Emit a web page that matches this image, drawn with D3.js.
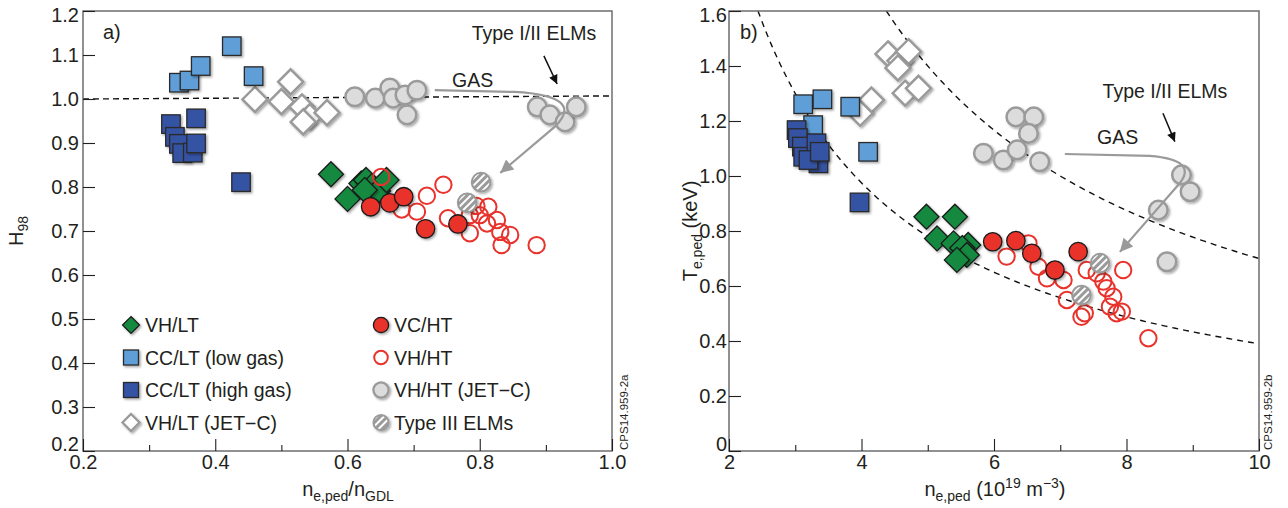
<!DOCTYPE html>
<html>
<head>
<meta charset="utf-8">
<script src="https://cdn.jsdelivr.net/npm/d3@7"></script>
<style>
body { margin: 0; background: #fff; }
text { font-family: "Liberation Sans", Arial, Helvetica, sans-serif; fill: #231f20; }
</style>
</head>
<body>
<script>
// ---- data, panel a) : H98 vs n/nGDL ----
var vhLtA   = [[0.575,0.829],[0.600,0.773],[0.621,0.808],[0.628,0.816],[0.637,0.802],[0.646,0.791],[0.659,0.816],[0.626,0.793]];
var ccLowA  = [[0.345,1.037],[0.361,1.042],[0.378,1.075],[0.425,1.120],[0.458,1.052]];
var ccHighA = [[0.333,0.943],[0.371,0.956],[0.339,0.914],[0.345,0.898],[0.350,0.877],[0.366,0.878],[0.371,0.899],[0.439,0.811]];
var jetcLtA = [[0.460,0.999],[0.514,1.039],[0.500,0.994],[0.531,0.982],[0.543,0.960],[0.569,0.969],[0.533,0.948]];
var vcHtA   = [[0.635,0.755],[0.664,0.764],[0.685,0.778],[0.718,0.705],[0.767,0.716]];
var vhHtA   = [[0.651,0.823],[0.682,0.749],[0.705,0.744],[0.720,0.780],[0.745,0.805],[0.752,0.729],[0.785,0.695],[0.795,0.757],
               [0.813,0.755],[0.811,0.717],[0.826,0.725],[0.831,0.698],[0.833,0.668],[0.846,0.691],[0.886,0.668],[0.785,0.736],[0.800,0.736]];
var jetcHtA = [[0.611,1.005],[0.642,1.002],[0.664,1.025],[0.669,1.002],[0.687,1.009],[0.705,1.020],[0.690,0.964],
               [0.887,0.982],[0.906,0.964],[0.929,0.948],[0.946,0.982]];
var type3A  = [[0.802,0.811],[0.781,0.764]];
var h98Ref  = [[0.2,1.0],[1.0,1.007]];
var gasPathA   = [[0.732,1.020],[0.853,1.016],[0.959,1.007],[0.915,0.939],[0.831,0.832]];
var elmArrowA  = [[0.897,1.098],[0.917,1.034]];

// ---- data, panel b) : Te,ped vs ne,ped ----
var vhLtB   = [[4.98,0.852],[5.41,0.852],[5.14,0.773],[5.39,0.755],[5.61,0.749],[5.52,0.738],[5.59,0.713],[5.44,0.695]];
var ccLowB  = [[3.12,1.261],[3.41,1.279],[3.83,1.252],[3.27,1.185],[4.10,1.088]];
var ccHighB = [[3.02,1.167],[3.04,1.138],[3.10,1.107],[3.12,1.070],[3.32,1.119],[3.35,1.046],[3.20,1.058],[3.37,1.088],[3.97,0.904]];
var jetcLtB = [[4.40,1.444],[4.58,1.419],[4.71,1.452],[4.55,1.393],[4.15,1.276],[3.98,1.228],[4.66,1.301],[4.86,1.319]];
var vcHtB   = [[5.98,0.761],[6.33,0.765],[6.57,0.719],[6.92,0.658],[7.27,0.725]];
var vhHtB   = [[6.19,0.707],[6.52,0.755],[6.67,0.670],[6.80,0.628],[7.05,0.622],[7.10,0.549],[7.40,0.658],[7.55,0.646],[7.65,0.616],
               [7.70,0.592],[7.80,0.561],[7.95,0.658],[7.37,0.501],[7.32,0.488],[7.75,0.525],[7.85,0.501],[7.93,0.507],[8.33,0.410]];
var jetcHtB = [[5.84,1.083],[6.14,1.058],[6.33,1.215],[6.60,1.215],[6.52,1.155],[6.35,1.095],[6.69,1.052],
               [8.83,1.004],[8.96,0.943],[8.48,0.876],[8.61,0.688]];
var type3B  = [[7.60,0.683],[7.32,0.567]];
var isobarC = [3.9, 7.0];   // Te = C / ne
var gasPathB  = [[7.07,1.080],[8.35,1.073],[9.11,1.058],[8.78,0.967],[7.90,0.724]];
var elmArrowB = [[8.55,1.228],[8.73,1.125]];

// ticks
var yTicksA = [0.2,0.3,0.4,0.5,0.6,0.7,0.8,0.9,1.0,1.1,1.2];
var xMajorA = [0.2,0.4,0.6,0.8,1.0];
var xMinorA = [0.3,0.5,0.7,0.9];
var yTicksB = [0,0.2,0.4,0.6,0.8,1.0,1.2,1.4,1.6];
var xMajorB = [2,4,6,8,10];
var xMinorB = [3,5,7,9];

var legendLeft  = ["VH/LT", "CC/LT (low gas)", "CC/LT (high gas)", "VH/LT (JET\u2212C)"];
var legendRight = ["VC/HT", "VH/HT", "VH/HT (JET\u2212C)", "Type III ELMs"];

// colours
var cGreen = "#17893f", cLight = "#5e9ed6", cDark = "#3452a3", cRed = "#e8322b",
    cGrayFill = "#dcdcdc", cGray = "#9a9a9a", cInk = "#231f20";

var svg = d3.select("body").append("svg")
    .attr("width", 1288)
    .attr("height", 508);

var defs = svg.append("defs");
var f = defs.append("filter").attr("id", "sh")
    .attr("x", "-50%").attr("y", "-50%").attr("width", "200%").attr("height", "200%");
f.append("feDropShadow").attr("dx", 1.5).attr("dy", 1.5).attr("stdDeviation", 1.3)
    .attr("flood-color", "#000").attr("flood-opacity", 0.35);

var pat = defs.append("pattern").attr("id", "hatch")
    .attr("patternUnits", "userSpaceOnUse").attr("width", 5).attr("height", 5)
    .attr("patternTransform", "rotate(45)");
pat.append("rect").attr("width", 5).attr("height", 5).attr("fill", cGray);
pat.append("rect").attr("width", 2).attr("height", 5).attr("fill", "#fff");

function arrowHead(id, color, w, h) {
    defs.append("marker").attr("id", id)
        .attr("viewBox", "0 0 10 10").attr("refX", 10).attr("refY", 5)
        .attr("markerUnits", "userSpaceOnUse")
        .attr("markerWidth", w).attr("markerHeight", h)
        .attr("orient", "auto")
        .append("path").attr("d", "M0,0 L10,5 L0,10 z").attr("fill", color);
}
arrowHead("arrGray", cGray, 15, 13);
arrowHead("arrBlack", "#111", 10, 9);

// ---- marker helpers ----
function squares(g, pts, x, y, s, fill) {
    g.selectAll(null).data(pts).enter().append("rect")
        .attr("x", function(d){ return x(d[0]) - s/2; })
        .attr("y", function(d){ return y(d[1]) - s/2; })
        .attr("width", s).attr("height", s)
        .attr("fill", fill).attr("stroke", "#2a2a2a").attr("stroke-width", 1.3)
        .attr("filter", "url(#sh)");
}
function diamonds(g, pts, x, y, r, fill, stroke, sw) {
    g.selectAll(null).data(pts).enter().append("path")
        .attr("d", function(d){
            var cx = x(d[0]), cy = y(d[1]);
            return "M" + cx + "," + (cy - r) + "L" + (cx + r) + "," + cy +
                   "L" + cx + "," + (cy + r) + "L" + (cx - r) + "," + cy + "Z";
        })
        .attr("fill", fill).attr("stroke", stroke).attr("stroke-width", sw)
        .attr("stroke-linejoin", "miter")
        .attr("filter", "url(#sh)");
}
function circles(g, pts, x, y, r, fill, stroke, sw, shadow) {
    var c = g.selectAll(null).data(pts).enter().append("circle")
        .attr("cx", function(d){ return x(d[0]); })
        .attr("cy", function(d){ return y(d[1]); })
        .attr("r", r)
        .attr("fill", fill).attr("stroke", stroke).attr("stroke-width", sw);
    if (shadow) c.attr("filter", "url(#sh)");
}

function frame(x, y) {
    svg.append("rect")
        .attr("x", x.range()[0]).attr("y", y.range()[1])
        .attr("width", x.range()[1] - x.range()[0])
        .attr("height", y.range()[0] - y.range()[1])
        .attr("fill", "none").attr("stroke", "#6d6e71").attr("stroke-width", 1.5);
}

function axes(x, y, yTicks, yFmt, yPad, xMajor, xMinor, xFmt) {
    var x0 = x.range()[0], yb = y.range()[0];
    var ya = svg.append("g").attr("transform", "translate(" + x0 + ",0)")
        .call(d3.axisLeft(y).tickValues(yTicks).tickSize(-12).tickPadding(yPad).tickFormat(yFmt));
    var xa = svg.append("g").attr("transform", "translate(0," + yb + ")")
        .call(d3.axisBottom(x).tickValues(xMajor).tickSize(-12).tickPadding(4).tickFormat(xFmt));
    var xm = svg.append("g").attr("transform", "translate(0," + yb + ")")
        .call(d3.axisBottom(x).tickValues(xMinor).tickSize(-6).tickFormat(""));
    [ya, xa, xm].forEach(function(a){
        a.select(".domain").remove();
        a.attr("font-family", null).attr("font-size", null);
        a.selectAll("line").attr("stroke", cInk).attr("stroke-width", 1.1);
        a.selectAll("text").attr("font-size", 20).attr("fill", cInk);
    });
    // lowest label sits above the corner, top label a bit lower
    ya.selectAll(".tick text").filter(function(d){ return d === yTicks[0]; }).attr("dy", "-0.05em");
    ya.selectAll(".tick text").filter(function(d){ return d === yTicks[yTicks.length - 1]; }).attr("dy", "0.5em");
}

// ================= panel a) =================
var xA = d3.scaleLinear().domain([0.2, 1.0]).range([83, 612]);
var yA = d3.scaleLinear().domain([0.2, 1.2]).range([451, 11]);

var gA = svg.append("g");
gA.append("path")
    .attr("d", d3.line().x(function(d){ return xA(d[0]); }).y(function(d){ return yA(d[1]); })(h98Ref))
    .attr("fill", "none").attr("stroke", "#111").attr("stroke-width", 1.4).attr("stroke-dasharray", "6,4");

diamonds(gA, jetcLtA, xA, yA, 12.5, "#fff", cGray, 2.5);
circles(gA, jetcHtA, xA, yA, 9.3, cGrayFill, cGray, 2.5, true);
squares(gA, ccLowA, xA, yA, 18.5, cLight);
squares(gA, ccHighA, xA, yA, 18.5, cDark);
diamonds(gA, vhLtA, xA, yA, 12.5, cGreen, "#1a1a1a", 1.3);
circles(gA, vhHtA, xA, yA, 8.2, "none", cRed, 2, false);
circles(gA, vcHtA, xA, yA, 9.2, cRed, "#1a1a1a", 1.3, true);
circles(gA, type3A, xA, yA, 9.3, "url(#hatch)", cGray, 2, true);

function curvedArrow(g, pts, x, y) {
    var p = pts.map(function(d){ return [x(d[0]), y(d[1])]; });
    g.append("path")
        .attr("d", "M" + p[0] + "L" + p[1] + "Q" + p[2] + " " + p[3] + "L" + p[4])
        .attr("fill", "none").attr("stroke", cGray).attr("stroke-width", 2.2)
        .attr("marker-end", "url(#arrGray)");
}
function straightArrow(g, pts, x, y) {
    g.append("line")
        .attr("x1", x(pts[0][0])).attr("y1", y(pts[0][1]))
        .attr("x2", x(pts[1][0])).attr("y2", y(pts[1][1]))
        .attr("stroke", "#111").attr("stroke-width", 1.5)
        .attr("marker-end", "url(#arrBlack)");
}
curvedArrow(gA, gasPathA, xA, yA);
straightArrow(gA, elmArrowA, xA, yA);

gA.append("text").attr("x", xA(0.882)).attr("y", yA(1.134)).attr("text-anchor", "middle")
    .attr("font-size", 19.5).text("Type I/II ELMs");
gA.append("text").attr("x", xA(0.758)).attr("y", yA(1.027)).attr("font-size", 19.5).text("GAS");
gA.append("text").attr("x", 103).attr("y", 39).attr("font-size", 20).text("a)");

frame(xA, yA);
axes(xA, yA, yTicksA, d3.format(".1f"), 4, xMajorA, xMinorA, d3.format(".1f"));

// legend
var legY = [325, 357.5, 390, 422.5];
var lg = svg.append("g");
diamonds(lg, [[131, legY[0]]], Number, Number, 8.5, cGreen, "#1a1a1a", 1.2);
squares(lg, [[131, legY[1]]], Number, Number, 15, cLight);
squares(lg, [[131, legY[2]]], Number, Number, 15, cDark);
diamonds(lg, [[131, legY[3]]], Number, Number, 8.5, "#fff", cGray, 2.3);
circles(lg, [[381, legY[0]]], Number, Number, 7.6, cRed, "#1a1a1a", 1.3, true);
circles(lg, [[381, legY[1]]], Number, Number, 6.8, "none", cRed, 2, false);
circles(lg, [[381, legY[2]]], Number, Number, 7.6, cGrayFill, cGray, 2.3, true);
circles(lg, [[381, legY[3]]], Number, Number, 7.6, "url(#hatch)", cGray, 2, true);
lg.selectAll(null).data(legendLeft).enter().append("text")
    .attr("x", 145).attr("y", function(d, i){ return legY[i] + 7; })
    .attr("font-size", 19.5).text(function(d){ return d; });
lg.selectAll(null).data(legendRight).enter().append("text")
    .attr("x", 394).attr("y", function(d, i){ return legY[i] + 7; })
    .attr("font-size", 19.5).text(function(d){ return d; });

// axis titles a)
var tA = svg.append("text").attr("x", 348).attr("y", 496).attr("text-anchor", "middle").attr("font-size", 20);
tA.append("tspan").text("n");
tA.append("tspan").attr("dy", 5).attr("font-size", 14).text("e,ped");
tA.append("tspan").attr("dy", -5).text("/n");
tA.append("tspan").attr("dy", 5).attr("font-size", 14).text("GDL");

var hA = svg.append("text").attr("transform", "translate(23,231) rotate(-90)")
    .attr("text-anchor", "middle").attr("font-size", 20);
hA.append("tspan").text("H");
hA.append("tspan").attr("dy", 5).attr("font-size", 14).text("98");

svg.append("text").attr("transform", "translate(628,450) rotate(-90)")
    .attr("font-size", 11.5).text("CPS14.959-2a");

// ================= panel b) =================
var xB = d3.scaleLinear().domain([2, 10]).range([729, 1259]);
var yB = d3.scaleLinear().domain([0, 1.6]).range([451, 11]);

var gB = svg.append("g");
var isoLine = d3.line().x(function(d){ return xB(d[0]); }).y(function(d){ return yB(d[1]); });
isobarC.forEach(function(c){
    var pts = d3.range(c / 1.6, 10.001, 0.05).map(function(n){ return [n, c / n]; });
    pts.push([10, c / 10]);
    gB.append("path").attr("d", isoLine(pts))
        .attr("fill", "none").attr("stroke", "#111").attr("stroke-width", 1.4)
        .attr("stroke-dasharray", "6,5");
});

diamonds(gB, jetcLtB, xB, yB, 12.5, "#fff", cGray, 2.5);
circles(gB, jetcHtB, xB, yB, 9.3, cGrayFill, cGray, 2.5, true);
squares(gB, ccLowB, xB, yB, 18.5, cLight);
squares(gB, ccHighB, xB, yB, 18.5, cDark);
diamonds(gB, vhLtB, xB, yB, 12.5, cGreen, "#1a1a1a", 1.3);
circles(gB, vhHtB, xB, yB, 8.2, "none", cRed, 2, false);
circles(gB, vcHtB, xB, yB, 9.2, cRed, "#1a1a1a", 1.3, true);
circles(gB, type3B, xB, yB, 9.3, "url(#hatch)", cGray, 2, true);

curvedArrow(gB, gasPathB, xB, yB);
straightArrow(gB, elmArrowB, xB, yB);

gB.append("text").attr("x", xB(8.58)).attr("y", yB(1.284)).attr("text-anchor", "middle")
    .attr("font-size", 19.5).text("Type I/II ELMs");
gB.append("text").attr("x", xB(7.555)).attr("y", yB(1.116)).attr("font-size", 19.5).text("GAS");
gB.append("text").attr("x", 740).attr("y", 39).attr("font-size", 20).text("b)");

frame(xB, yB);
axes(xB, yB, yTicksB, function(d){ return d === 0 ? "0" : d3.format(".1f")(d); }, 2,
     xMajorB, xMinorB, d3.format("d"));

var tB = svg.append("text").attr("x", 995).attr("y", 496).attr("text-anchor", "middle").attr("font-size", 20);
tB.append("tspan").text("n");
tB.append("tspan").attr("dy", 5).attr("font-size", 14).text("e,ped");
tB.append("tspan").attr("dy", -5).text(" (10");
tB.append("tspan").attr("dy", -8).attr("font-size", 14).text("19");
tB.append("tspan").attr("dy", 8).text(" m");
tB.append("tspan").attr("dy", -8).attr("font-size", 14).text("\u22123");
tB.append("tspan").attr("dy", 8).text(")");

var hB = svg.append("text").attr("transform", "translate(697,231) rotate(-90)")
    .attr("text-anchor", "middle").attr("font-size", 20);
hB.append("tspan").text("T");
hB.append("tspan").attr("dy", 5).attr("font-size", 14).text("e,ped");
hB.append("tspan").attr("dy", -5).text(" (keV)");

svg.append("text").attr("transform", "translate(1272,450) rotate(-90)")
    .attr("font-size", 11.5).text("CPS14.959-2b");
</script>
</body>
</html>
